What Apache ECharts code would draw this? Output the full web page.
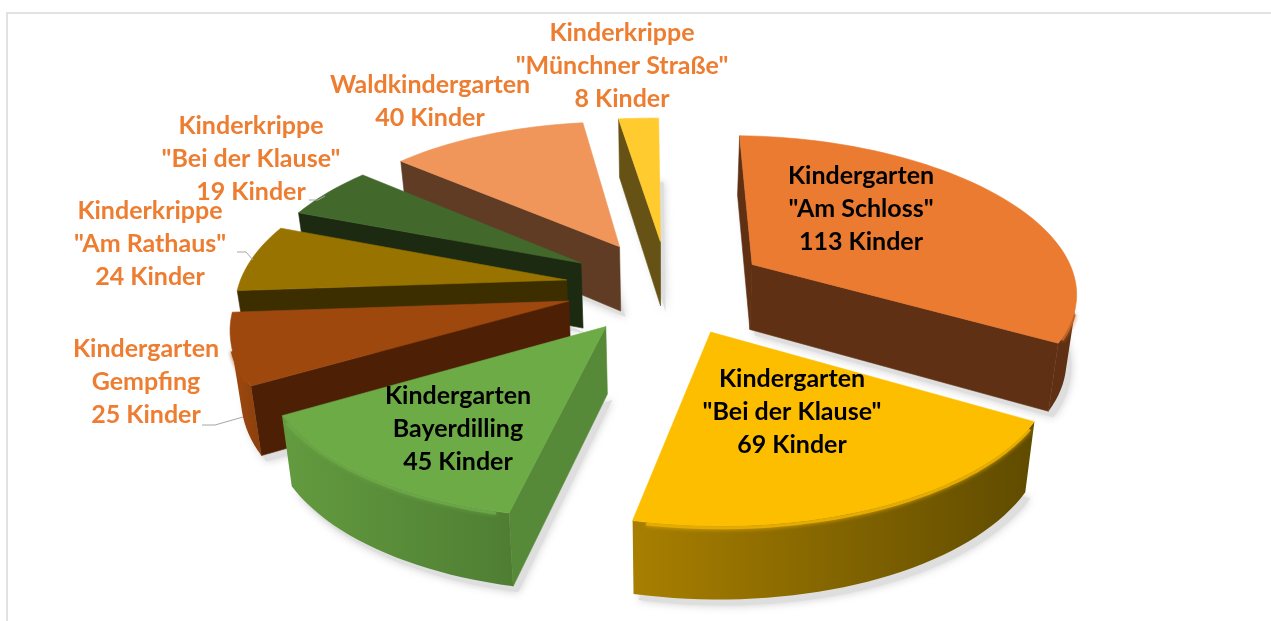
<!DOCTYPE html>
<html>
<head>
<meta charset="utf-8">
<title>Kinder je Einrichtung</title>
<script src="https://cdn.jsdelivr.net/npm/echarts@6/dist/echarts.min.js"></script>
<style>
  html, body { margin: 0; padding: 0; background: #fff; }
  #chart { width: 1271px; height: 621px; }
</style>
</head>
<body>
<div id="chart"></div>
<script>
const names = [
  'Kindergarten\n"Am Schloss"',
  'Kindergarten\n"Bei der Klause"',
  'Kindergarten\nBayerdilling',
  'Kindergarten\nGempfing',
  'Kinderkrippe\n"Am Rathaus"',
  'Kinderkrippe\n"Bei der Klause"',
  'Waldkindergarten',
  'Kinderkrippe\n"Münchner Straße"'
];
const children = [113, 69, 45, 25, 24, 19, 40, 8];

const topColors = ['#EA7B31', '#FDBE00', '#6DAB47', '#9E480E', '#997300', '#43682B', '#F0965A', '#FFCB2F'];
const faceColors = ['#5F3013', '#665000', '#578A38', '#4D2006', '#3D2E00', '#1B2A11', '#603C25', '#665214'];
const wallLight = ['#5F3013', '#A87F00', '#639B3F', '#A04A10', '#3D2E00', '#1B2A11', '#603C25', '#665214'];
const wallDark = ['#5F3013', '#5F4B00', '#4F7E33', '#8A3F0C', '#3D2E00', '#1B2A11', '#603C25', '#665214'];

// label centres and leader lines, in pixels
const labelCentres = [
  [861, 209], [792, 412], [458, 429], [146, 382],
  [150, 244], [251, 159], [430, 101], [622, 66]
];
const labelColors = ['#000', '#000', '#000', '#ED7D31', '#ED7D31', '#ED7D31', '#ED7D31', '#ED7D31'];
const leaders = [
  [[202, 425], [215, 425], [243, 417]],
  [[237, 252], [246, 252], [253, 260]],
  [[309, 200], [318, 200], [325, 196]]
];

// pie geometry and camera
const cx = 667, cy = 287, rxLeft = 328.5, rxRight = 325, ry = 152.6, depth = 66;
const perspX = 0.15, perspY = 0.14, explode = 0.31, startDeg = 1.5;

const total = children.reduce((a, b) => a + b, 0);

function project(x, y, z) {
  const px = 1 / (1 - perspX * y), py = 1 / (1 - perspY * y);
  const rx = x < 0 ? rxLeft : rxRight;
  // the camera sits a little off centre, so depth also leans sideways
  const lean = 5.5 * y - 2.5 * y * y;
  return [cx + rx * x * px * (1 - 0.025 * z) + lean, cy + ry * y * py + depth * z * (1 + 0.09 * y)];
}

function sliceAngles(i) {
  const before = children.slice(0, i).reduce((a, b) => a + b, 0);
  const a0 = (startDeg + before / total * 360) * Math.PI / 180;
  const a1 = (startDeg + (before + children[i]) / total * 360) * Math.PI / 180;
  return [a0, a1];
}

function slicePoints(i, z) {
  const [a0, a1] = sliceAngles(i);
  const mid = (a0 + a1) / 2;
  const ox = explode * Math.sin(mid), oy = -explode * Math.cos(mid);
  const apex = project(ox, oy, z);
  const arc = [];
  const steps = Math.max(6, Math.ceil((a1 - a0) / (2 * Math.PI / 180)));
  for (let s = 0; s <= steps; s++) {
    const a = a0 + (a1 - a0) * s / steps;
    arc.push(project(ox + Math.sin(a), oy - Math.cos(a), z));
  }
  return { apex, arc };
}

function area(pts) {
  let sum = 0;
  pts.forEach((p, k) => {
    const q = pts[(k + 1) % pts.length];
    sum += p[0] * q[1] - q[0] * p[1];
  });
  return sum / 2;
}

function poly(points, fill) {
  return {
    type: 'polygon',
    shape: { points },
    style: { fill, stroke: fill, lineWidth: 0.6 }
  };
}

function mix(a, b, t) {
  const c = echarts.color.parse(a), d = echarts.color.parse(b);
  return 'rgb(' + [0, 1, 2].map(k => Math.round(c[k] + (d[k] - c[k]) * t)).join(',') + ')';
}

function renderSlice(params, api) {
  const i = api.value(0);
  const up = slicePoints(i, 0), down = slicePoints(i, 1);
  const parts = [];

  // the two cut faces, only where they turn to the viewer
  const last = up.arc.length - 1;
  const startFace = [up.apex, up.arc[0], down.arc[0], down.apex];
  const endFace = [up.apex, down.apex, down.arc[last], up.arc[last]];
  if (area(startFace) < 0) parts.push(poly(startFace, faceColors[i]));
  if (area(endFace) < 0) parts.push(poly(endFace, faceColors[i]));

  // outer wall: the run of arc steps that face the viewer
  const wallTop = [], wallBottom = [];
  for (let s = 0; s < last; s++) {
    const q = [up.arc[s], up.arc[s + 1], down.arc[s + 1], down.arc[s]];
    if (area(q) >= 0) continue;
    if (!wallTop.length) { wallTop.push(up.arc[s]); wallBottom.push(down.arc[s]); }
    wallTop.push(up.arc[s + 1]);
    wallBottom.push(down.arc[s + 1]);
  }
  if (wallTop.length) {
    parts.push({
      type: 'polygon',
      shape: { points: wallTop.concat(wallBottom.slice().reverse()) },
      style: {
        fill: new echarts.graphic.LinearGradient(0, 0, 1, 0, [
          { offset: 0, color: wallLight[i] },
          { offset: 1, color: wallDark[i] }
        ])
      }
    });
    // soft rim between wall and top, kept inside the wall
    const rim = mix(topColors[i], wallLight[i], 0.3);
    parts.push({
      type: 'polyline',
      shape: { points: wallTop.slice(1, -1).map(p => [p[0], p[1] + 2]) },
      style: { stroke: rim, lineWidth: 3, fill: 'none', lineJoin: 'round', shadowBlur: 4, shadowColor: rim }
    });
  }
  parts.push(poly([up.apex].concat(up.arc), topColors[i]));
  return { type: 'group', children: parts };
}

function renderShadow(params, api) {
  const i = api.value(0);
  const down = slicePoints(i, 1);
  const pts = [down.apex].concat(down.arc).map(p => [p[0] + 5, p[1] + 6]);
  return {
    type: 'polygon',
    shape: { points: pts },
    style: { fill: '#dedede', shadowBlur: 9, shadowColor: 'rgba(130,130,130,0.4)' }
  };
}

// back slices are painted first
function midY(i) {
  const [a0, a1] = sliceAngles(i);
  return -Math.cos((a0 + a1) / 2);
}
const paintOrder = children.map((v, i) => i).sort((a, b) => midY(a) - midY(b));

const labelText = names.map((n, i) => n + '\n' + children[i] + ' Kinder');

const graphics = [
  {
    type: 'polyline', silent: true, z: 0,
    shape: { points: [[7, 621], [7, 13], [1271, 13]] },
    style: { stroke: '#d9d9d9', lineWidth: 1.5, fill: 'none' }
  }
];
leaders.forEach(points => graphics.push({
  type: 'polyline', z: 20,
  shape: { points },
  style: { stroke: '#a6a6a6', lineWidth: 1, fill: 'none' }
}));
labelText.forEach((text, i) => graphics.push({
  type: 'text', z: 30,
  x: labelCentres[i][0], y: labelCentres[i][1],
  style: {
    text, fill: labelColors[i],
    font: '700 25px Lato, "Open Sans", sans-serif',
    lineHeight: 33, align: 'center', verticalAlign: 'middle'
  }
}));

const chart = echarts.init(document.getElementById('chart'), null, { renderer: 'canvas' });
chart.setOption({
  animation: false,
  backgroundColor: '#ffffff',
  graphic: graphics,
  series: [
    {
      type: 'custom', silent: true, z: 1,
      coordinateSystem: 'none',
      encode: { x: -1, y: -1 },
      renderItem: renderShadow,
      data: paintOrder.map(i => [i])
    },
    {
      type: 'custom', silent: true, z: 2,
      coordinateSystem: 'none',
      encode: { x: -1, y: -1 },
      renderItem: renderSlice,
      data: paintOrder.map(i => [i])
    }
  ]
});
</script>
</body>
</html>
